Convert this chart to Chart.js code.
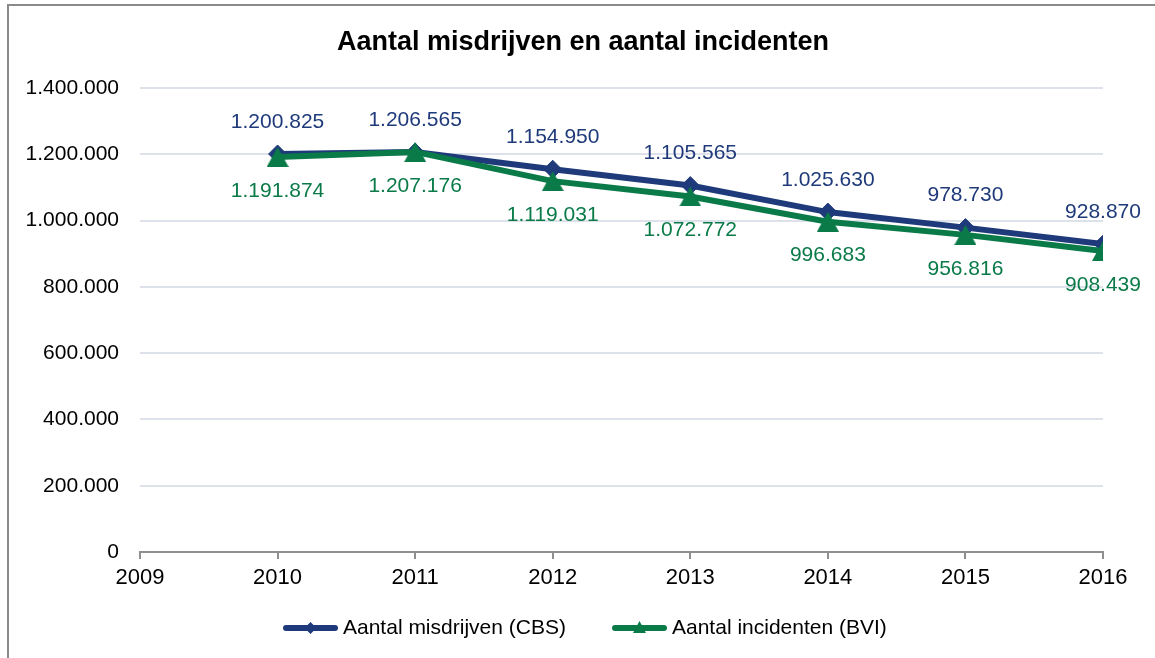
<!DOCTYPE html>
<html>
<head>
<meta charset="utf-8">
<script src="https://cdn.jsdelivr.net/npm/chart.js@4.4.1/dist/chart.umd.min.js"></script>
<style>
  html, body { margin: 0; padding: 0; background: #fff; overflow: hidden; }
  #frame { position: absolute; left: 7px; top: 4px; width: 1200px; height: 700px; border: 2px solid #8a8a8a; }
  #myCanvas { position: absolute; left: 0; top: 0; }
</style>
</head>
<body>
<div id="frame"></div>
<canvas id="myCanvas" width="1155" height="658"></canvas>
<script>
// jaren en waarden
const years = [2010, 2011, 2012, 2013, 2014, 2015, 2016];
const misdrijven = [1200825, 1206565, 1154950, 1105565, 1025630, 978730, 928870];
const incidenten = [1191874, 1207176, 1119031, 1072772, 996683, 956816, 908439];
const yearRange = [2009, 2016];
const valueRange = [0, 1400000];
const valueStep = 200000;

const TITLE = 'Aantal misdrijven en aantal incidenten';
const BLUE = '#1f3a7a';
const GREEN = '#0a7a48';
const FONT = '"Liberation Sans", Arial, sans-serif';

// 1234567 -> 1.234.567
function fmt(v)
{
    return String(Math.round(v)).replace(/\B(?=(\d{3})+(?!\d))/g, '.');
}

function triangle(w, h, color)
{
    const c = document.createElement('canvas');
    c.width = w;
    c.height = h;
    const t = c.getContext('2d');
    t.fillStyle = color;
    t.beginPath();
    t.moveTo(w / 2, 0);
    t.lineTo(w, h);
    t.lineTo(0, h);
    t.closePath();
    t.fill();
    return c;
}

function diamond(ctx, x, y, r, color)
{
    ctx.fillStyle = color;
    ctx.beginPath();
    ctx.moveTo(x, y - r);
    ctx.lineTo(x + r, y);
    ctx.lineTo(x, y + r);
    ctx.lineTo(x - r, y);
    ctx.closePath();
    ctx.fill();
}

// waarde boven/onder elk punt
const valueLabels = {
    id: 'valueLabels',
    afterDatasetsDraw(chart) {
        const ctx = chart.ctx;
        ctx.save();
        ctx.font = '21px ' + FONT;
        ctx.textAlign = 'center';
        ctx.textBaseline = 'middle';
        chart.data.datasets.forEach((ds, i) => {
            const meta = chart.getDatasetMeta(i);
            ctx.fillStyle = ds.borderColor;
            meta.data.forEach((pt, j) => {
                ctx.fillText(fmt(ds.data[j].y), pt.x, pt.y + ds.labelOffset);
            });
        });
        ctx.restore();
    }
};

// titel en legenda (lijn met marker)
const titleAndLegend = {
    id: 'titleAndLegend',
    afterDraw(chart) {
        const ctx = chart.ctx;
        ctx.save();
        ctx.fillStyle = '#000';
        ctx.font = 'bold 27px ' + FONT;
        ctx.textAlign = 'center';
        ctx.textBaseline = 'middle';
        ctx.fillText(TITLE, 583, 43);

        const y = 628;
        const items = [
            { text: 'Aantal misdrijven (CBS)', color: BLUE, x: 283, mark: 'diamond' },
            { text: 'Aantal incidenten (BVI)', color: GREEN, x: 612, mark: 'triangle' }
        ];
        items.forEach(it => {
            ctx.strokeStyle = it.color;
            ctx.lineWidth = 6;
            ctx.lineCap = 'round';
            ctx.beginPath();
            ctx.moveTo(it.x + 3, y);
            ctx.lineTo(it.x + 52, y);
            ctx.stroke();
            const cx = it.x + 27.5;
            if (it.mark === 'diamond') {
                diamond(ctx, cx, y, 6, it.color);
            } else {
                ctx.drawImage(triangle(13, 12, it.color), cx - 6.5, y - 7);
            }
            ctx.fillStyle = '#000';
            ctx.font = '21px ' + FONT;
            ctx.textAlign = 'left';
            ctx.textBaseline = 'middle';
            ctx.fillText(it.text, it.x + 60, y);
        });
        ctx.restore();
    }
};

Chart.defaults.font.family = FONT;
Chart.defaults.font.size = 21;
Chart.defaults.color = '#000';

var c = document.getElementById('myCanvas');
var ctx = c.getContext('2d');

var myChart = new Chart(ctx, {
    type: 'line',
    data: {
        datasets: [
            {
                label: 'Aantal misdrijven (CBS)',
                data: years.map((y, i) => ({ x: y, y: misdrijven[i] })),
                borderColor: BLUE,
                backgroundColor: BLUE,
                borderWidth: 6,
                pointStyle: 'rectRot',
                pointRadius: 9,
                pointBorderWidth: 1,
                tension: 0,
                labelOffset: -32,
                order: 2
            },
            {
                label: 'Aantal incidenten (BVI)',
                data: years.map((y, i) => ({ x: y, y: incidenten[i] })),
                borderColor: GREEN,
                backgroundColor: GREEN,
                borderWidth: 6,
                pointStyle: triangle(22, 20, GREEN),
                pointRadius: 10,
                tension: 0,
                labelOffset: 34,
                order: 1
            }
        ]
    },
    options: {
        responsive: false,
        animation: false,
        layout: { padding: { left: 0, right: 52, top: 88, bottom: 56 } },
        plugins: {
            legend: { display: false },
            tooltip: { enabled: false },
            title: { display: false }
        },
        scales: {
            x: {
                type: 'linear',
                min: yearRange[0],
                max: yearRange[1],
                ticks: {
                    stepSize: 1,
                    padding: 6,
                    font: { size: 22 },
                    callback: v => String(v)
                },
                grid: {
                    drawOnChartArea: false,
                    color: '#8f8f8f',
                    lineWidth: 2,
                    tickLength: 7
                },
                border: { display: true, color: '#8f8f8f', width: 2 },
                afterFit: scale => { scale.height = 50; }
            },
            y: {
                min: valueRange[0],
                max: valueRange[1],
                ticks: {
                    stepSize: valueStep,
                    padding: 21,
                    callback: v => fmt(v)
                },
                grid: {
                    color: '#dde1ea',
                    lineWidth: 2,
                    drawTicks: false
                },
                border: { display: false },
                afterFit: scale => { scale.width = 140; }
            }
        }
    },
    plugins: [valueLabels, titleAndLegend]
});
</script>
</body>
</html>
